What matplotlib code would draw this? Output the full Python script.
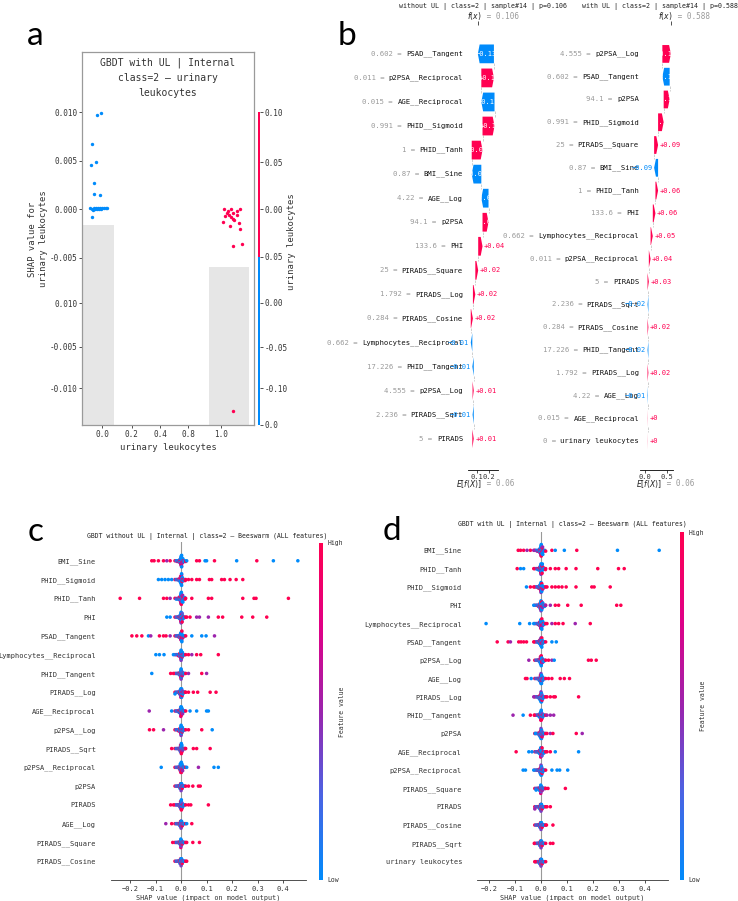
import numpy as np
import matplotlib
matplotlib.use("Agg")
import matplotlib.pyplot as plt
from matplotlib.colors import LinearSegmentedColormap, ListedColormap, BoundaryNorm, Normalize
from matplotlib.cm import ScalarMappable

plt.rcParams["font.family"] = ["DejaVu Sans Mono", "DejaVu Sans"]

BLUE = "#008bfb"
RED = "#ff0051"
SHAP_CMAP = LinearSegmentedColormap.from_list(
    "shap_rb", ["#008bfb", "#4b63e3", "#9b24ad", "#e00086", "#ff0051"])

# --- panel a: dependence plot of urinary leukocytes ---
A_BLUE_X = [-0.042, -0.008, -0.084, -0.050, -0.092, -0.067, -0.067, -0.017,
            -0.101, -0.088, -0.076, -0.067, -0.059, -0.050, -0.042, -0.034,
            -0.025, -0.017, -0.008, 0.000, 0.017, 0.034, 0.042, -0.084]
A_BLUE_Y = [0.0097, 0.0099, 0.0067, 0.0048, 0.0045, 0.0027, 0.0015, 0.0014,
            0.0001, 0.0000, -0.0001, 0.0001, 0.0000, 0.0001, 0.0000, 0.0001,
            0.0000, 0.0001, 0.0000, 0.0001, 0.0001, 0.0001, 0.0001, -0.0008]
A_RED_X = [1.025, 1.048, 1.081, 1.103, 1.137, 1.160, 1.031, 1.064, 1.098, 1.132,
           1.020, 1.076, 1.109, 1.148, 1.160, 1.098, 1.176, 1.098, 1.059, 1.087]
A_RED_Y = [0.0000, -0.0004, 0.0000, -0.0004, -0.0002, 0.0000, -0.0007, -0.0006,
           -0.0010, -0.0006, -0.0013, -0.0018, -0.0011, -0.0014, -0.0021, -0.0038,
           -0.0036, -0.0208, -0.0002, -0.0008]
A_HIST_CENTER = [-0.03, 1.067]
A_HIST_WIDTH = [0.27, 0.336]
A_HIST_HEIGHT = [0.536, 0.424]   # share of the axes height
A_YTICKS = [0.010, 0.005, 0.0, -0.005, -0.0097, -0.0142, -0.0185]
A_YTICKLABELS = ["0.010", "0.005", "0.000", "-0.005", "0.010", "-0.005", "-0.010"]
A_XTICKS = [0.0, 0.25, 0.487, 0.723, 1.0]
A_XTICKLABELS = ["0.0", "0.2", "0.4", "0.8", "1.0"]
A_CB_TICKS = [1.0, 0.84, 0.69, 0.537, 0.39, 0.249, 0.118, 0.0]
A_CB_LABELS = ["0.10", "0.05", "0.00", "0.05", "0.00", "-0.05", "-0.10", "0.0"]

# --- panel b: waterfalls for sample #14 ---
WL_FEATURES = ["PSAD__Tangent", "p2PSA__Reciprocal", "AGE__Reciprocal", "PHID__Sigmoid",
               "PHID__Tanh", "BMI__Sine", "AGE__Log", "p2PSA", "PHI", "PIRADS__Square",
               "PIRADS__Log", "PIRADS__Cosine", "Lymphocytes__Reciprocal", "PHID__Tangent",
               "p2PSA__Log", "PIRADS__Sqrt", "PIRADS"]
WL_VALUES = ["0.602", "0.011", "0.015", "0.991", "1", "0.87", "4.22", "94.1", "133.6",
             "25", "1.792", "0.284", "0.662", "17.226", "4.555", "2.236", "5"]
WL_SHAP = [-0.134, 0.105, -0.11, 0.10, 0.09, -0.08, -0.06, 0.05, 0.036, 0.024,
           0.020, 0.018, -0.013, -0.012, 0.010, -0.010, 0.012]
WL_BASE, WL_FX = 0.06, 0.106

WR_FEATURES = ["p2PSA__Log", "PSAD__Tangent", "p2PSA", "PHID__Sigmoid", "PIRADS__Square",
               "BMI__Sine", "PHID__Tanh", "PHI", "Lymphocytes__Reciprocal",
               "p2PSA__Reciprocal", "PIRADS", "PIRADS__Sqrt", "PIRADS__Cosine",
               "PHID__Tangent", "PIRADS__Log", "AGE__Log", "AGE__Reciprocal",
               "urinary leukocytes"]
WR_VALUES = ["4.555", "0.602", "94.1", "0.991", "25", "0.87", "1", "133.6", "0.662",
             "0.011", "5", "2.236", "0.284", "17.226", "1.792", "4.22", "0.015", "0"]
WR_SHAP = [0.194, -0.166, 0.136, 0.127, 0.09, -0.09, 0.06, 0.06, 0.05, 0.04, 0.03,
           -0.02, 0.02, -0.02, 0.02, -0.01, 0.004, 0.003]
WR_BASE, WR_FX = 0.06, 0.588

# --- panels c/d: beeswarm ---
CORE_SHAP = [-0.024, -0.019, -0.015, -0.012, -0.010, -0.008, -0.007, -0.006, -0.005,
             -0.004, -0.004, -0.003, -0.003, -0.002, -0.002, -0.002, -0.001, -0.001,
             -0.001, 0.0, 0.0, 0.0, 0.0, 0.001, 0.001, 0.001, 0.002, 0.002, 0.002,
             0.003, 0.003, 0.004, 0.004, 0.005, 0.006, 0.007, 0.009, 0.011, 0.014, 0.018]
CORE_FVAL = [1, 0, 0.5, 0, 1, 0, 0, 0.6, 1, 0, 0.2, 1, 0, 0.5, 0, 1, 0, 0, 0.8, 0,
             1, 0, 0.4, 0, 1, 0, 0.7, 0, 0, 1, 0, 0.3, 1, 0, 0.5, 0, 1, 0, 0, 1]

C_FEATURES = ["BMI__Sine", "PHID__Sigmoid", "PHID__Tanh", "PHI", "PSAD__Tangent",
              "Lymphocytes__Reciprocal", "PHID__Tangent", "PIRADS__Log", "AGE__Reciprocal",
              "p2PSA__Log", "PIRADS__Sqrt", "p2PSA__Reciprocal", "p2PSA", "PIRADS",
              "AGE__Log", "PIRADS__Square", "PIRADS__Cosine"]
C_SHAP = [
    [-0.115, -0.106, -0.089, -0.069, -0.056, -0.043, 0.022, 0.061, 0.072, 0.094, 0.10,
     0.131, 0.218, 0.297, 0.362, 0.458],
    [-0.089, -0.076, -0.063, -0.05, -0.037, 0.016, 0.029, 0.042, 0.061, 0.072, 0.111,
     0.120, 0.159, 0.17, 0.192, 0.216, 0.242],
    [-0.239, -0.163, -0.069, -0.056, -0.043, 0.016, 0.042, 0.107, 0.12, 0.242, 0.286,
     0.294, 0.421],
    [-0.056, -0.043, 0.022, 0.035, 0.061, 0.072, 0.107, 0.146, 0.163, 0.238, 0.281, 0.336],
    [-0.193, -0.174, -0.154, -0.128, -0.119, -0.085, -0.069, -0.059, -0.043, 0.042, 0.081,
     0.098, 0.131],
    [-0.099, -0.085, -0.067, -0.03, 0.029, 0.042, 0.061, 0.077, 0.146],
    [-0.115, -0.041, -0.03, 0.029, 0.081, 0.10],
    [-0.024, 0.016, 0.029, 0.048, 0.065, 0.114, 0.137],
    [-0.125, -0.037, 0.035, 0.061, 0.10, 0.107],
    [-0.124, -0.108, -0.069, 0.029, 0.081, 0.122],
    [-0.037, 0.016, 0.048, 0.061, 0.114],
    [-0.078, 0.022, 0.068, 0.129, 0.146],
    [0.029, 0.046, 0.068, 0.075],
    [-0.041, -0.03, 0.029, 0.038, 0.107],
    [-0.06, -0.037, 0.022, 0.042],
    [-0.033, 0.022, 0.046, 0.072],
    [0.022],
]
C_FVAL = [
    [1, 1, 1, 1, 0.5, 1, 0, 1, 1, 0, 0, 1, 0, 1, 0, 0],
    [0, 0, 0, 0, 0, 1, 1, 1, 1, 1, 1, 1, 1, 1, 1, 1, 1],
    [1, 1, 1, 1, 0.5, 1, 1, 1, 1, 1, 1, 1, 1],
    [0, 0, 1, 1, 0.5, 0.5, 0.5, 1, 1, 1, 1, 1],
    [1, 1, 1, 0, 0.5, 1, 1, 1, 0.5, 0, 0, 0, 0.5],
    [0, 0, 0, 0, 1, 0.5, 1, 1, 1],
    [0, 1, 1, 0.5, 1, 0.5],
    [0, 1, 1, 1, 1, 1, 1],
    [0.5, 0, 0, 0, 0, 0],
    [1, 1, 0.5, 1, 1, 0],
    [1, 1, 1, 1, 1],
    [0, 0, 0.5, 0, 0],
    [1, 1, 1, 1],
    [1, 1, 1, 1, 1],
    [0.5, 1, 0, 1],
    [1, 1, 1, 1],
    [1],
]

D_FEATURES = ["BMI__Sine", "PHID__Tanh", "PHID__Sigmoid", "PHI", "Lymphocytes__Reciprocal",
              "PSAD__Tangent", "p2PSA__Log", "AGE__Log", "PIRADS__Log", "PHID__Tangent",
              "p2PSA", "AGE__Reciprocal", "p2PSA__Reciprocal", "PIRADS__Square", "PIRADS",
              "PIRADS__Cosine", "PIRADS__Sqrt", "urinary leukocytes"]
D_SHAP = [
    [-0.088, -0.079, -0.067, -0.054, -0.041, -0.028, 0.042, 0.055, 0.09, 0.138, 0.295, 0.456],
    [-0.092, -0.079, -0.067, -0.028, 0.017, 0.036, 0.055, 0.068, 0.097, 0.135, 0.219,
     0.299, 0.321],
    [-0.056, -0.041, -0.028, 0.023, 0.042, 0.055, 0.068, 0.081, 0.097, 0.135, 0.196,
     0.205, 0.267],
    [-0.028, 0.017, 0.036, 0.055, 0.068, 0.103, 0.155, 0.292, 0.308],
    [-0.212, -0.082, -0.044, -0.028, 0.023, 0.042, 0.055, 0.068, 0.085, 0.132, 0.19],
    [-0.169, -0.127, -0.118, -0.086, -0.077, -0.067, -0.056, -0.028, 0.042, 0.059],
    [-0.047, 0.029, 0.042, 0.051, 0.183, 0.194, 0.213],
    [-0.06, -0.054, -0.038, 0.029, 0.042, 0.074, 0.09, 0.11],
    [-0.028, 0.023, 0.036, 0.049, 0.055, 0.145],
    [-0.108, -0.069, -0.041, -0.026, 0.023, 0.036, 0.049],
    [-0.022, 0.023, 0.036, 0.046, 0.136, 0.159],
    [-0.096, -0.047, -0.035, 0.023, 0.036, 0.055, 0.145],
    [-0.069, -0.06, -0.028, 0.042, 0.062, 0.072, 0.103],
    [-0.019, 0.017, 0.027, 0.094],
    [-0.024, 0.023, 0.036],
    [0.021, 0.046],
    [-0.026, 0.036, 0.046],
    [-0.022],
]
D_FVAL = [
    [1, 1, 1, 0.5, 1, 0.5, 1, 0, 0, 1, 0, 0],
    [1, 0, 0, 1, 1, 1, 1, 1, 1, 1, 1, 1, 1],
    [0, 1, 1, 1, 1, 1, 1, 1, 1, 1, 1, 1, 1],
    [0, 0.5, 0.5, 1, 1, 1, 1, 1, 1],
    [0, 0, 0, 0, 1, 0.5, 1, 1, 1, 0.5, 1],
    [1, 1, 0.5, 1, 1, 1, 1, 1, 0, 0],
    [0.5, 1, 0.5, 0, 1, 1, 1],
    [1, 1, 0, 1, 1, 1, 1, 1],
    [0.5, 1, 1, 1, 1, 1],
    [0.5, 0, 1, 1, 0.5, 0.5, 0.5],
    [0, 1, 0.5, 1, 1, 0.5],
    [1, 0, 0, 1, 1, 0, 0],
    [0, 0, 0, 0, 0, 0, 0],
    [0, 1, 1, 1],
    [0.5, 1, 1],
    [1, 1],
    [1, 1, 1],
    [1],
]
BEE_XTICKS = [-0.2, -0.1, 0.0, 0.1, 0.2, 0.3, 0.4]

W, H = 738, 901
fig = plt.figure(figsize=(W / 100, H / 100), dpi=100)


def px_axes(x0, y0, x1, y1):
    return fig.add_axes([x0 / W, 1 - y1 / H, (x1 - x0) / W, (y1 - y0) / H])


def fig_text(x, y, s, **kw):
    return fig.text(x / W, 1 - y / H, s, **kw)


def fmt(v):
    s = f"{v:+.2f}".rstrip("0").rstrip(".")
    return s.replace("-", "\u2212")


def swarm_offsets(vals, row_height=0.4, nbins=100):
    vals = np.asarray(vals, float)
    span = vals.max() - vals.min() + 1e-8
    quant = np.round(nbins * (vals - vals.min()) / span)
    order = np.argsort(quant, kind="stable")
    ys = np.zeros(len(vals))
    layer, last = 0, None
    for i in order:
        if quant[i] != last:
            layer = 0
        ys[i] = np.ceil(layer / 2) * ((layer % 2) * 2 - 1)
        layer += 1
        last = quant[i]
    ys *= 0.9 * (row_height / np.max(ys + 1))
    return ys


# ------------------------- panel a -------------------------
ax = px_axes(82, 52, 254, 425)
ax.bar(A_HIST_CENTER, A_HIST_HEIGHT, width=A_HIST_WIDTH, color="#e6e6e6",
       transform=ax.get_xaxis_transform(), zorder=0)
ax.scatter(A_BLUE_X, A_BLUE_Y, s=6, color=BLUE, linewidths=0, zorder=3)
ax.scatter(A_RED_X, A_RED_Y, s=6, color=RED, linewidths=0, zorder=3)
ax.set_xlim(-0.168, 1.277)
ax.set_ylim(-0.02227, 0.01619)
ax.set_yticks(A_YTICKS)
ax.set_yticklabels(A_YTICKLABELS)
ax.set_xticks(A_XTICKS)
ax.set_xticklabels(A_XTICKLABELS)
ax.tick_params(labelsize=5.5, length=2, width=0.6, pad=1.5, colors="#333333")
for sp in ax.spines.values():
    sp.set_color("#9a9a9a")
    sp.set_linewidth(0.9)
ax.text(0.5, 0.985, "GBDT with UL | Internal\nclass=2 \u2014 urinary\nleukocytes",
        transform=ax.transAxes, ha="center", va="top", fontsize=7, linespacing=1.6,
        color="#333333")
ax.set_xlabel("urinary leukocytes", fontsize=6.4, labelpad=3, color="#333333")
fig_text(38, 239, "SHAP value for\nurinary leukocytes", rotation=90, ha="center",
         va="center", fontsize=6.4, color="#333333", multialignment="center")

cax = px_axes(257.5, 112, 260, 425)
cb = fig.colorbar(ScalarMappable(norm=BoundaryNorm([0, 0.537, 1], 2),
                                 cmap=ListedColormap([BLUE, RED])),
                  cax=cax, spacing="proportional", ticks=A_CB_TICKS)
cb.set_ticklabels(A_CB_LABELS)
cb.outline.set_visible(False)
cb.ax.tick_params(labelsize=5.5, length=2, width=0.6, pad=1.5, colors="#333333")
fig_text(292, 242, "urinary leukocytes", rotation=90, ha="center", va="center",
         fontsize=6.4, color="#333333")


# ------------------------- panel b -------------------------
def waterfall(box, xlim, ylim, feats, vals, shap, base, fx, xticks, lab_off, e_off, f_off):
    ax = px_axes(*box)
    n = len(feats)
    shap = np.asarray(shap, float)
    cum = np.concatenate([[0.0], np.cumsum(shap[::-1])])
    starts = (base + cum[:-1])[::-1]
    ends = starts + shap
    ax.set_xlim(xlim)
    ax.set_ylim(ylim)
    ppu = (box[2] - box[0]) / (xlim[1] - xlim[0])
    hl = 1.8 / ppu
    bar_h = 0.78
    for i in range(n):
        v = shap[i]
        col = RED if v > 0 else BLUE
        ax.arrow(starts[i], i, v, 0, width=bar_h, head_width=bar_h,
                 head_length=min(hl, abs(v)), length_includes_head=True,
                 fc=col, ec="none", lw=0, zorder=3)
        if i < n - 1:
            ax.plot([starts[i], starts[i]], [i + 0.39, i + 0.61], color="#bbbbbb",
                    lw=0.5, ls="--", zorder=1)
        if abs(v) * ppu > 5:
            ax.text((starts[i] + ends[i]) / 2, i, fmt(v), ha="center", va="center",
                    color="white", fontsize=5, zorder=4)
        elif v > 0:
            ax.annotate(fmt(v), xy=(ends[i], i), xytext=(1.5, 0), textcoords="offset pixels",
                        ha="left", va="center", color=RED, fontsize=5, zorder=4)
        else:
            ax.annotate(fmt(v), xy=(ends[i], i), xytext=(-1.5, 0), textcoords="offset pixels",
                        ha="right", va="center", color=BLUE, fontsize=5, zorder=4)
        name = ax.annotate(feats[i], xy=(0, i), xycoords=("axes fraction", "data"),
                           xytext=(lab_off, 0), textcoords="offset pixels", ha="right",
                           va="center", fontsize=5.2, color="#111111")
        ax.annotate(vals[i] + " = ", xy=(0, 0.5), xycoords=name, ha="right", va="center",
                    fontsize=5.2, color="#9a9a9a")
    for s in ("left", "right", "top"):
        ax.spines[s].set_visible(False)
    ax.spines["bottom"].set_linewidth(0.6)
    ax.set_yticks([])
    ax.set_xticks(xticks)
    ax.tick_params(axis="x", labelsize=5, length=2, width=0.6, pad=1, colors="#333333")
    ax.annotate("$E[f(X)]$", xy=(base, 0), xycoords=("data", "axes fraction"),
                xytext=(e_off, -14), textcoords="offset pixels", ha="right", va="center",
                fontsize=5.5, color="#222222")
    ax.annotate(" = " + f"{base:.2f}", xy=(base, 0), xycoords=("data", "axes fraction"),
                xytext=(e_off, -14), textcoords="offset pixels", ha="left", va="center",
                fontsize=5.5, color="#9a9a9a")
    ax.annotate("$f(x)$", xy=(fx, 1), xycoords=("data", "axes fraction"),
                xytext=(f_off, 9), textcoords="offset pixels", ha="right", va="center",
                fontsize=5.5, color="#222222")
    ax.annotate(" = " + f"{fx:.3f}", xy=(fx, 1), xycoords=("data", "axes fraction"),
                xytext=(f_off, 9), textcoords="offset pixels", ha="left", va="center",
                fontsize=5.5, color="#9a9a9a")
    top = ax.twiny()
    top.set_xlim(xlim)
    top.set_xticks([fx])
    top.set_xticklabels([])
    top.tick_params(length=3, width=0.6, colors="#333333")
    for sp in top.spines.values():
        sp.set_visible(False)
    return ax


waterfall((468, 25, 498, 470), (0.024, 0.274), (17.3, -1.2), WL_FEATURES, WL_VALUES,
          WL_SHAP, WL_BASE, WL_FX, [0.1, 0.2], -5, 10, 4)
waterfall((640, 25, 673, 470), (-0.114, 0.636), (18.27, -1.27), WR_FEATURES, WR_VALUES,
          WR_SHAP, WR_BASE, WR_FX, [0.0, 0.5], -1, 14, 2)
fig_text(483, 6, "without UL | class=2 | sample#14 | p=0.106", ha="center", va="center",
         fontsize=4.8, color="#222222")
fig_text(660, 6, "with UL | class=2 | sample#14 | p=0.588", ha="center", va="center",
         fontsize=4.8, color="#222222")


# ------------------------- panels c / d -------------------------
def beeswarm(box, cbox, feats, shap_rows, fval_rows, xlim, title, title_xy, cb_label_x):
    ax = px_axes(*box)
    n = len(feats)
    for i in range(n):
        vals = np.concatenate([CORE_SHAP, shap_rows[i]])
        cols = np.concatenate([CORE_FVAL, fval_rows[i]])
        ys = i + swarm_offsets(vals)
        ax.scatter(vals, ys, c=cols, cmap=SHAP_CMAP, vmin=0, vmax=1, s=6.5,
                   linewidths=0, zorder=3)
    ax.axvline(0, color="#999999", lw=0.8, zorder=-1)
    ax.set_xlim(xlim)
    ax.set_ylim(n, -1)
    ax.set_yticks(range(n))
    ax.set_yticklabels(feats, fontsize=5, color="#333333")
    ax.tick_params(axis="y", length=0, pad=10.8)
    ax.set_xticks(BEE_XTICKS)
    ax.tick_params(axis="x", labelsize=5, length=2.5, width=0.6, pad=1.5, colors="#333333")
    for s in ("left", "right", "top"):
        ax.spines[s].set_visible(False)
    ax.spines["bottom"].set_linewidth(0.6)
    ax.spines["bottom"].set_color("#333333")
    ax.set_xlabel("SHAP value (impact on model output)", fontsize=4.9, labelpad=2,
                  color="#333333")
    fig_text(title_xy[0], title_xy[1], title, ha="center", va="center", fontsize=4.7,
             color="#222222")
    cax = px_axes(*cbox)
    cb = fig.colorbar(ScalarMappable(norm=Normalize(0, 1), cmap=SHAP_CMAP), cax=cax,
                      ticks=[0, 1])
    cb.set_ticklabels(["Low", "High"])
    cb.outline.set_visible(False)
    cb.ax.tick_params(labelsize=4.7, length=0, pad=3, colors="#333333")
    fig_text(cb_label_x, (cbox[1] + cbox[3]) / 2, "Feature value", rotation=90,
             ha="center", va="center", fontsize=4.7, color="#333333")
    return ax


beeswarm((111, 542, 306, 880), (319, 543, 323, 880), C_FEATURES, C_SHAP, C_FVAL,
         (-0.275, 0.49), "GBDT without UL | Internal | class=2 \u2014 Beeswarm (ALL features)",
         (207, 536), 342)
beeswarm((477, 532, 668, 880), (680, 532, 684, 880), D_FEATURES, D_SHAP, D_FVAL,
         (-0.247, 0.49), "GBDT with UL | Internal | class=2 \u2014 Beeswarm (ALL features)",
         (572, 525), 703)

# panel letters
for lx, ly, letter in [(27, 45, "a"), (338, 45, "b"), (28, 541, "c"), (383, 540, "d")]:
    fig_text(lx, ly, letter, fontsize=24, ha="left", va="baseline", family="Lato",
             color="black")

fig.savefig("out.png", dpi=100)
